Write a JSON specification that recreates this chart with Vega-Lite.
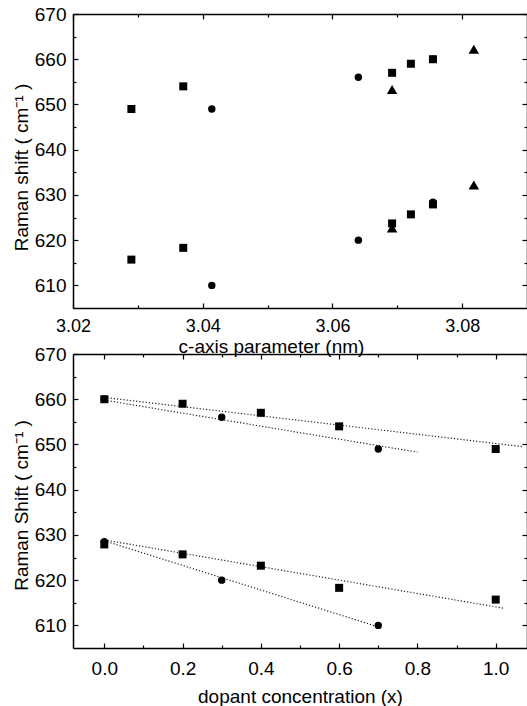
{
  "$schema": "https://vega.github.io/schema/vega-lite/v6.json",
  "padding": {"left": 12, "top": 5, "right": 0, "bottom": 0},
  "background": "white",
  "config": {
    "font": "Liberation Sans",
    "view": {"stroke": null},
    "axis": {
      "grid": false,
      "labelFlush": false,
      "domainColor": "black",
      "domainWidth": 1.5,
      "tickColor": "black",
      "tickWidth": 1.2,
      "labelFontSize": 19,
      "titleFontSize": 19,
      "labelColor": "black",
      "titleColor": "black",
      "titleFontWeight": "normal",
      "labelFont": "Liberation Sans",
      "titleFont": "Liberation Sans"
    }
  },
  "datasets": {
    "top": [
      {"c": 3.029, "shift": 649.0, "series": "square"},
      {"c": 3.037, "shift": 654.0, "series": "square"},
      {"c": 3.029, "shift": 615.7, "series": "square"},
      {"c": 3.037, "shift": 618.3, "series": "square"},
      {"c": 3.0692, "shift": 657.0, "series": "square"},
      {"c": 3.0721, "shift": 659.0, "series": "square"},
      {"c": 3.0692, "shift": 623.7, "series": "square"},
      {"c": 3.0721, "shift": 625.7, "series": "square"},
      {"c": 3.0755, "shift": 660.0, "series": "square"},
      {"c": 3.0755, "shift": 627.9, "series": "square"},
      {"c": 3.0414, "shift": 649.0, "series": "circle"},
      {"c": 3.0414, "shift": 610.0, "series": "circle"},
      {"c": 3.064, "shift": 656.0, "series": "circle"},
      {"c": 3.064, "shift": 620.0, "series": "circle"},
      {"c": 3.0755, "shift": 660.0, "series": "circle"},
      {"c": 3.0755, "shift": 628.4, "series": "circle"},
      {"c": 3.0692, "shift": 653.3, "series": "triangle"},
      {"c": 3.0818, "shift": 662.2, "series": "triangle"},
      {"c": 3.0692, "shift": 622.7, "series": "triangle"},
      {"c": 3.0818, "shift": 632.2, "series": "triangle"}
    ],
    "bottom": [
      {"x": 0.0, "shift": 660.0, "series": "square"},
      {"x": 0.2, "shift": 659.0, "series": "square"},
      {"x": 0.4, "shift": 657.0, "series": "square"},
      {"x": 0.6, "shift": 654.0, "series": "square"},
      {"x": 1.0, "shift": 649.0, "series": "square"},
      {"x": 0.0, "shift": 627.9, "series": "square"},
      {"x": 0.2, "shift": 625.7, "series": "square"},
      {"x": 0.4, "shift": 623.2, "series": "square"},
      {"x": 0.6, "shift": 618.3, "series": "square"},
      {"x": 1.0, "shift": 615.7, "series": "square"},
      {"x": 0.0, "shift": 660.0, "series": "circle"},
      {"x": 0.3, "shift": 656.0, "series": "circle"},
      {"x": 0.7, "shift": 649.0, "series": "circle"},
      {"x": 0.0, "shift": 628.5, "series": "circle"},
      {"x": 0.3, "shift": 620.0, "series": "circle"},
      {"x": 0.7, "shift": 610.0, "series": "circle"}
    ],
    "fits": [
      {"x": 0.0, "shift": 660.4, "fit": "square upper"},
      {"x": 1.07, "shift": 649.5, "fit": "square upper"},
      {"x": 0.0, "shift": 659.8, "fit": "circle upper"},
      {"x": 0.8, "shift": 648.3, "fit": "circle upper"},
      {"x": 0.0, "shift": 628.9, "fit": "square lower"},
      {"x": 1.02, "shift": 613.8, "fit": "square lower"},
      {"x": 0.0, "shift": 628.7, "fit": "circle lower"},
      {"x": 0.71, "shift": 609.4, "fit": "circle lower"}
    ]
  },
  "bounds": "flush",
  "spacing": 46,
  "vconcat": [
    {
      "width": 454,
      "height": 294,
      "data": {"name": "top"},
      "resolve": {"axis": {"x": "independent", "y": "independent"}},
      "layer": [
        {
          "transform": [{"filter": "datum.series === 'square'"}],
          "mark": {"type": "square", "size": 64, "color": "black", "opacity": 1},
          "encoding": {
            "x": {"field": "c", "type": "quantitative",
              "scale": {"domain": [3.02, 3.09], "nice": false, "zero": false},
              "axis": {"orient": "bottom", "title": "c-axis parameter (nm)",
                "values": [3.02, 3.03, 3.04, 3.05, 3.06, 3.07, 3.08],
                "labelExpr": "round(datum.value*100) % 2 == 0 ? format(datum.value, '.2f') : ''",
                "tickSize": {"condition": {"test": "round(datum.value*100) % 2 == 0", "value": -5}, "value": -3},
                "labelFontSize": 18, "labelPadding": 14, "titleX": 198, "titleY": 44, "titleBaseline": "alphabetic", "titleAlign": "center"}},
            "y": {"field": "shift", "type": "quantitative",
              "scale": {"domain": [605, 670], "nice": false, "zero": false},
              "axis": {"orient": "left", "title": "Raman shift ( cm⁻¹ )",
                "values": [610, 615, 620, 625, 630, 635, 640, 645, 650, 655, 660, 665, 670],
                "labelExpr": "datum.value % 10 == 0 ? datum.label : ''",
                "tickSize": {"condition": {"test": "datum.value % 10 == 0", "value": -5}, "value": -3},
                "labelPadding": 12, "titleX": -46, "titleY": 153, "titleBaseline": "alphabetic", "titleAlign": "center", "titleAngle": -90}}
          }
        },
        {
          "transform": [{"filter": "datum.series === 'circle'"}],
          "mark": {"type": "circle", "size": 55, "color": "black", "opacity": 1},
          "encoding": {
            "x": {"field": "c", "type": "quantitative",
              "scale": {"domain": [3.02, 3.09], "nice": false, "zero": false},
              "axis": {"orient": "top", "title": null, "labels": false,
                "values": [3.02, 3.03, 3.04, 3.05, 3.06, 3.07, 3.08],
                "tickSize": {"condition": {"test": "round(datum.value*100) % 2 == 0", "value": -5}, "value": -3}}},
            "y": {"field": "shift", "type": "quantitative",
              "scale": {"domain": [605, 670], "nice": false, "zero": false},
              "axis": {"orient": "right", "title": null, "labels": false,
                "values": [610, 615, 620, 625, 630, 635, 640, 645, 650, 655, 660, 665, 670],
                "tickSize": {"condition": {"test": "datum.value % 10 == 0", "value": -5}, "value": -3}}}
          }
        },
        {
          "transform": [{"filter": "datum.series === 'triangle'"}],
          "mark": {"type": "point", "shape": "triangle-up", "filled": true, "size": 110, "color": "black", "opacity": 1},
          "encoding": {
            "x": {"field": "c", "type": "quantitative",
              "scale": {"domain": [3.02, 3.09], "nice": false, "zero": false}, "axis": null},
            "y": {"field": "shift", "type": "quantitative",
              "scale": {"domain": [605, 670], "nice": false, "zero": false}, "axis": null}
          }
        }
      ]
    },
    {
      "width": 454,
      "height": 294,
      "resolve": {"axis": {"x": "independent", "y": "independent"}},
      "layer": [
        {
          "data": {"name": "fits"},
          "mark": {"type": "line", "color": "#222", "strokeWidth": 1.2, "strokeDash": [1.2, 2]},
          "encoding": {
            "x": {"field": "x", "type": "quantitative",
              "scale": {"domain": [-0.08, 1.08], "nice": false, "zero": false}, "axis": null},
            "y": {"field": "shift", "type": "quantitative",
              "scale": {"domain": [605, 670], "nice": false, "zero": false}, "axis": null},
            "detail": {"field": "fit"}
          }
        },
        {
          "data": {"name": "bottom"},
          "transform": [{"filter": "datum.series === 'square'"}],
          "mark": {"type": "square", "size": 64, "color": "black", "opacity": 1},
          "encoding": {
            "x": {"field": "x", "type": "quantitative",
              "scale": {"domain": [-0.08, 1.08], "nice": false, "zero": false},
              "axis": {"orient": "bottom", "title": "dopant concentration (x)",
                "values": [0, 0.1, 0.2, 0.3, 0.4, 0.5, 0.6, 0.7, 0.8, 0.9, 1.0],
                "labelExpr": "round(datum.value*10) % 2 == 0 ? format(datum.value, '.1f') : ''",
                "tickSize": {"condition": {"test": "round(datum.value*10) % 2 == 0", "value": -5}, "value": -3},
                "labelPadding": 16, "titleY": 54, "titleBaseline": "alphabetic", "titleAlign": "center"}},
            "y": {"field": "shift", "type": "quantitative",
              "scale": {"domain": [605, 670], "nice": false, "zero": false},
              "axis": {"orient": "left", "title": "Raman Shift ( cm⁻¹ )",
                "values": [610, 615, 620, 625, 630, 635, 640, 645, 650, 655, 660, 665, 670],
                "labelExpr": "datum.value % 10 == 0 ? datum.label : ''",
                "tickSize": {"condition": {"test": "datum.value % 10 == 0", "value": -5}, "value": -3},
                "labelPadding": 12, "titleX": -46, "titleY": 151, "titleBaseline": "alphabetic", "titleAlign": "center", "titleAngle": -90}}
          }
        },
        {
          "data": {"name": "bottom"},
          "transform": [{"filter": "datum.series === 'circle'"}],
          "mark": {"type": "circle", "size": 55, "color": "black", "opacity": 1},
          "encoding": {
            "x": {"field": "x", "type": "quantitative",
              "scale": {"domain": [-0.08, 1.08], "nice": false, "zero": false},
              "axis": {"orient": "top", "title": null, "labels": false,
                "values": [0, 0.1, 0.2, 0.3, 0.4, 0.5, 0.6, 0.7, 0.8, 0.9, 1.0],
                "tickSize": {"condition": {"test": "round(datum.value*10) % 2 == 0", "value": -5}, "value": -3}}},
            "y": {"field": "shift", "type": "quantitative",
              "scale": {"domain": [605, 670], "nice": false, "zero": false},
              "axis": {"orient": "right", "title": null, "labels": false,
                "values": [610, 615, 620, 625, 630, 635, 640, 645, 650, 655, 660, 665, 670],
                "tickSize": {"condition": {"test": "datum.value % 10 == 0", "value": -5}, "value": -3}}}
          }
        }
      ]
    }
  ]
}
